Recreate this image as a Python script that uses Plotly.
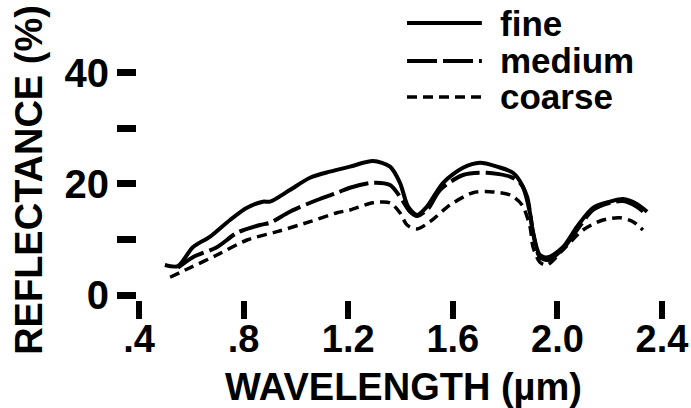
import plotly.graph_objects as go

# Reflectance spectra for three grain sizes
fine_wl = [0.499, 0.549, 0.606, 0.672, 0.748, 0.813, 0.874, 0.901, 0.977, 1.054,
           1.130, 1.207, 1.295, 1.360, 1.398, 1.429, 1.463, 1.501, 1.563, 1.639,
           1.704, 1.769, 1.830, 1.868, 1.895, 1.907, 1.933, 1.964, 2.021, 2.075,
           2.136, 2.201, 2.251, 2.304, 2.343]
fine_r = [5.4, 5.2, 8.6, 10.5, 13.5, 15.7, 16.8, 16.8, 18.9, 21.1,
          22.2, 23.1, 24.1, 23.1, 20.2, 15.9, 14.4, 15.9, 20.2, 22.9,
          23.8, 23.1, 22.0, 19.5, 14.8, 11.2, 7.2, 6.8, 8.6, 12.3,
          15.7, 16.8, 17.3, 16.4, 15.0]

medium_wl = [0.549, 0.606, 0.698, 0.775, 0.863, 0.901, 0.977, 1.081, 1.157, 1.207,
             1.295, 1.360, 1.398, 1.436, 1.463, 1.505, 1.551, 1.639, 1.731, 1.819,
             1.857, 1.884, 1.907, 1.933, 1.964, 2.021, 2.075, 2.136, 2.201, 2.251,
             2.304, 2.343]
medium_r = [4.9, 6.8, 8.6, 11.2, 12.6, 13.0, 15.0, 17.1, 18.4, 19.3,
            20.2, 19.8, 17.7, 15.0, 14.2, 15.5, 18.9, 21.6, 22.0, 21.3,
            20.2, 17.7, 11.2, 6.8, 6.3, 8.3, 11.7, 15.3, 16.6, 16.9,
            15.9, 14.4]

coarse_wl = [0.519, 0.595, 0.698, 0.813, 0.928, 1.054, 1.157, 1.207, 1.295, 1.360,
             1.398, 1.425, 1.463, 1.513, 1.589, 1.677, 1.742, 1.819, 1.865, 1.895,
             1.907, 1.933, 1.960, 2.021, 2.098, 2.174, 2.239, 2.289, 2.327]
coarse_r = [3.2, 4.9, 7.2, 9.9, 11.4, 13.2, 14.8, 15.3, 16.6, 16.6,
            14.8, 12.6, 11.9, 13.2, 16.2, 18.4, 18.6, 18.0, 16.2, 12.3,
            8.6, 5.9, 5.4, 8.1, 11.7, 13.5, 13.9, 13.2, 11.7]

x_ticks = [0.4, 0.8, 1.2, 1.6, 2.0, 2.4]
x_tick_text = [".4", ".8", "1.2", "1.6", "2.0", "2.4"]
y_ticks = [0, 10, 20, 30, 40]
y_tick_text = ["0", "", "20", "", "40"]

series_names = ["fine", "medium", "coarse"]
series_dash = ["solid", "30px,6px", "10px,6px"]
series_width = [4, 4, 3.5]

FONT = "Liberation Sans, Arial, Helvetica, sans-serif"

fig = go.Figure()
for name, wl, r, dash, w in zip(series_names,
                                [fine_wl, medium_wl, coarse_wl],
                                [fine_r, medium_r, coarse_r],
                                series_dash, series_width):
    fig.add_trace(go.Scatter(
        x=wl, y=r, name=name, mode="lines",
        line=dict(color="black", width=w, dash=dash, shape="spline", smoothing=0.8),
        showlegend=False,
    ))

# Hand-built legend at the upper right
legend_y = [1.154, 0.996, 0.846]
shapes = []
annotations = []
for name, dash, w, ly in zip(series_names, series_dash, series_width, legend_y):
    shapes.append(dict(type="line", xref="paper", yref="paper",
                       x0=0.5066, x1=0.647, y0=ly, y1=ly,
                       line=dict(color="black", width=w, dash=dash)))
    annotations.append(dict(text=f"<b>{name}</b>", xref="paper", yref="paper",
                            x=0.677, y=ly, xanchor="left", yanchor="middle",
                            showarrow=False,
                            font=dict(family=FONT, size=35, color="black")))

fig.update_layout(
    width=691, height=408,
    margin=dict(l=137, r=21, t=60, b=108),
    paper_bgcolor="white", plot_bgcolor="white",
    shapes=shapes, annotations=annotations,
    xaxis=dict(
        range=[0.3924, 2.4306], tickvals=x_ticks, ticktext=x_tick_text,
        ticks="outside", ticklen=18, tickwidth=6, tickcolor="black",
        ticklabelstandoff=-13,
        showline=False, showgrid=False, zeroline=False, automargin=False,
        tickfont=dict(family=FONT, size=38, color="black", weight="bold"),
        title=dict(text="WAVELENGTH (µm)", standoff=16,
                   font=dict(family=FONT, size=38, color="black", weight="bold")),
    ),
    yaxis=dict(
        range=[-0.9, 42.3], tickvals=y_ticks, ticktext=y_tick_text,
        ticks="outside", ticklen=19, tickwidth=7, tickcolor="black",
        showline=False, showgrid=False, zeroline=False, automargin=False,
        tickfont=dict(family=FONT, size=40, color="black", weight="bold"),
        title=dict(text="REFLECTANCE (%)", standoff=10,
                   font=dict(family=FONT, size=38, color="black", weight="bold")),
    ),
)

fig.write_html("out.html")
